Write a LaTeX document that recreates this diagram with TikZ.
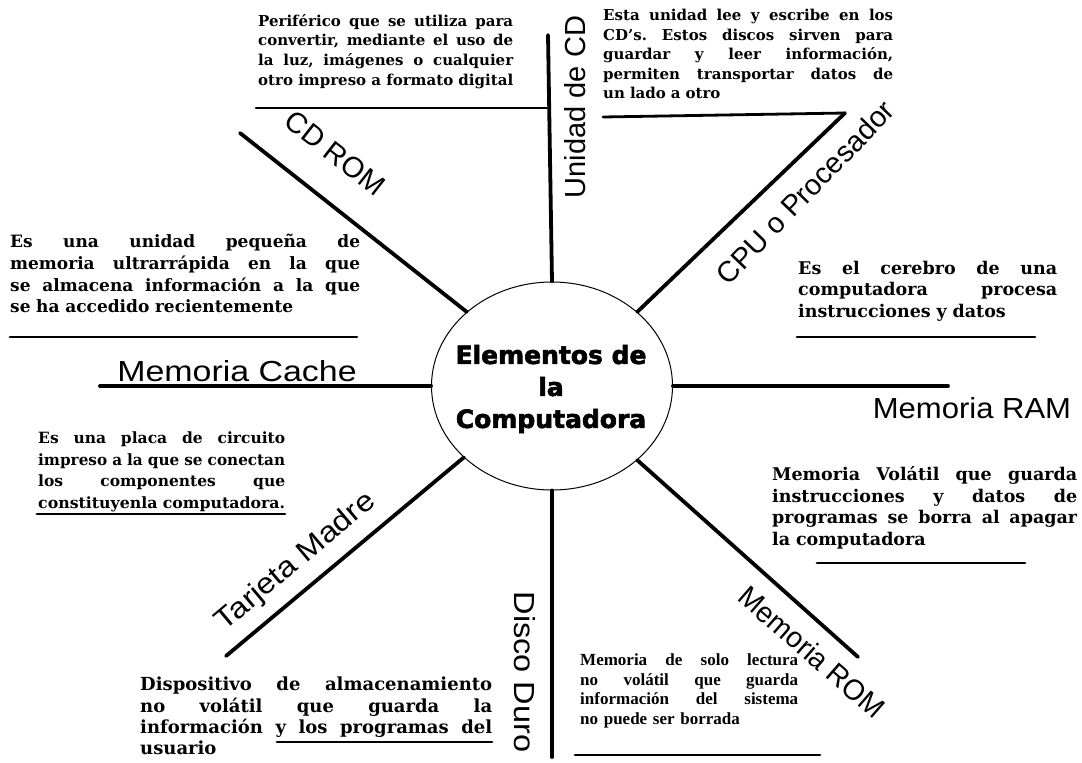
\documentclass[tikz,border=0pt]{standalone}
\usepackage{fontspec}
\usepackage{graphicx}
\setmainfont{DejaVu Serif}
\newfontfamily\labelfont{Liberation Sans}
\newfontfamily\titlefont{DejaVu Sans}[BoldFeatures={FakeBold=2.5}]
\newfontfamily\descfont{DejaVu Serif}
\newfontfamily\romfont{Liberation Serif}
\usetikzlibrary{shapes.geometric}
\setlength\parindent{0pt}
\newsavebox\jlbox
\newcommand\jl[1]{\sbox\jlbox{\strut#1}\ifdim\wd\jlbox>\hsize\resizebox{\hsize}{\height}{\usebox\jlbox}\else\hbox to\hsize{\frenchspacing\spaceskip=\fontdimen2\font plus 1fil\relax\strut#1}\fi\par}
\newcommand\lastl[1]{\sbox\jlbox{\strut#1}\ifdim\wd\jlbox>\hsize\resizebox{\hsize}{\height}{\usebox\jlbox}\else\hbox{\usebox\jlbox}\fi\par}
\newcommand\fl[1]{\resizebox{\hsize}{\height}{\strut#1}\par}
\tikzset{
  spoke/.style={line width=3.8pt, line cap=round},
  uline/.style={line width=2.8pt, line cap=round},
  lab/.style={font=\labelfont\fontsize{29}{34}\selectfont, inner sep=0pt},
  desc/.style={inner sep=0pt, anchor=north west},
}
\begin{document}
\begin{tikzpicture}[x=1pt,y=-1pt]
\useasboundingbox (0,0) rectangle (1082,763);
\fill[white] (0,0) rectangle (1082,763);
% central ellipse
\node[draw, ellipse, line width=1pt, minimum width=241pt, minimum height=208pt, inner sep=0pt] (c) at (552,386) {};
\node[font=\titlefont\bfseries\fontsize{25}{32}\selectfont, align=center, inner sep=0pt] (title) at (551,389) {Elementos de\\la\\Computadora};
% spoke end points
\coordinate (cdtop) at (548,35);
\coordinate (romcd) at (240,133);
\coordinate (cpuend) at (845,113);
\coordinate (cacheend) at (100,386);
\coordinate (ramend) at (948,386);
\coordinate (madreend) at (226,656);
\coordinate (romend) at (858,657);
\coordinate (discoend) at (552,757);
% spokes
\draw[spoke] (c.90) -- (cdtop);
\draw[spoke] (c.139) -- (romcd);
\draw[spoke] (c.41) -- (cpuend);
\draw[spoke] (c.180) -- (cacheend);
\draw[spoke] (c.0) -- (ramend);
\draw[spoke] (c.219) -- (madreend);
\draw[spoke] (c.-41) -- (romend);
\draw[spoke] (c.270) -- (discoend);
% underlines
\coordinate (u1a) at (256,108); \coordinate (u1b) at (547,108);
\coordinate (u2a) at (603,117);
\coordinate (u3a) at (797,337); \coordinate (u3b) at (1035,337);
\coordinate (u4a) at (10,337); \coordinate (u4b) at (357,337);
\coordinate (u5a) at (817,563); \coordinate (u5b) at (1025,563);
\coordinate (u6a) at (37,514); \coordinate (u6b) at (285,514);
\coordinate (u7a) at (277,742); \coordinate (u7b) at (492,742);
\coordinate (u8a) at (575,755); \coordinate (u8b) at (820,755);
\draw[uline] (u1a) -- (u1b);
\draw[uline] (u2a) -- (cpuend);
\draw[uline] (u3a) -- (u3b);
\draw[uline] (u4a) -- (u4b);
\draw[uline] (u5a) -- (u5b);
\draw[uline] (u6a) -- (u6b);
\draw[uline] (u7a) -- (u7b);
\draw[uline] (u8a) -- (u8b);
% labels
\node[lab, rotate=90] (lcd) at (575,107) {Unidad de CD};
\node[lab, rotate=-38] (lcdrom) at (335,153) {CD ROM};
\node[lab, rotate=46] (lcpu) at (805,192) {CPU o Procesador};
\node[lab] (lcache) at (237,371) {\scalebox{1.17}[1]{Memoria Cache}};
\node[lab] (lram) at (972,408) {\scalebox{1.07}[1]{Memoria RAM}};
\node[lab, rotate=40] (lmadre) at (296,562) {\scalebox{1.12}[1]{Tarjeta Madre}};
\node[lab, rotate=-90] (ldisco) at (525,672) {\scalebox{1.12}[1]{Disco Duro}};
\node[lab, rotate=-41] (lrom) at (812,652) {\scalebox{0.97}[1]{Memoria ROM}};
% descriptions
\node[desc, text width=255pt, font=\descfont\bfseries\fontsize{15}{19.8}\selectfont] (dscan) at (258,12) {%
\jl{Periférico que se utiliza para}\jl{convertir, mediante el uso de}\jl{la luz, imágenes o cualquier}\jl{otro impreso a formato digital}};
\node[desc, text width=290pt, font=\descfont\bfseries\fontsize{15}{19.5}\selectfont] (dcd) at (603,7) {%
\jl{Esta unidad lee y escribe en los}\jl{CD’s. Estos discos sirven para}\jl{guardar y leer información,}\jl{permiten transportar datos de}\lastl{un lado a otro}};
\node[desc, text width=350pt, font=\descfont\bfseries\fontsize{17}{21.8}\selectfont] (dcache) at (10,232) {%
\jl{Es una unidad pequeña de}\jl{memoria ultrarrápida en la que}\jl{se almacena información a la que}\lastl{se ha accedido recientemente}};
\node[desc, text width=259pt, font=\descfont\bfseries\fontsize{17.5}{21.5}\selectfont] (dcpu) at (798,259) {%
\jl{Es el cerebro de una}\jl{computadora procesa}\lastl{instrucciones y datos}};
\node[desc, text width=305pt, font=\descfont\bfseries\fontsize{17.5}{21.7}\selectfont] (dram) at (772,465) {%
\jl{Memoria Volátil que guarda}\jl{instrucciones y datos de}\jl{programas se borra al apagar}\lastl{la computadora}};
\node[desc, text width=247pt, font=\descfont\bfseries\fontsize{15.5}{20.5}\selectfont] (dmadre) at (38,429) {%
\jl{Es una placa de circuito}\jl{impreso a la que se conectan}\jl{los componentes que}\fl{constituyenla computadora.}};
\node[desc, text width=352pt, font=\descfont\bfseries\fontsize{18}{20.5}\selectfont] (ddisco) at (140,676) {%
\jl{Dispositivo de almacenamiento}\jl{no volátil que guarda la}\jl{información y los programas del}\lastl{usuario}};
\node[desc, text width=218pt, font=\romfont\bfseries\fontsize{17}{19.5}\selectfont] (drom) at (580,652) {%
\jl{Memoria de solo lectura}\jl{no volátil que guarda}\jl{información del sistema}\lastl{no puede ser borrada}};
\end{tikzpicture}
\end{document}
